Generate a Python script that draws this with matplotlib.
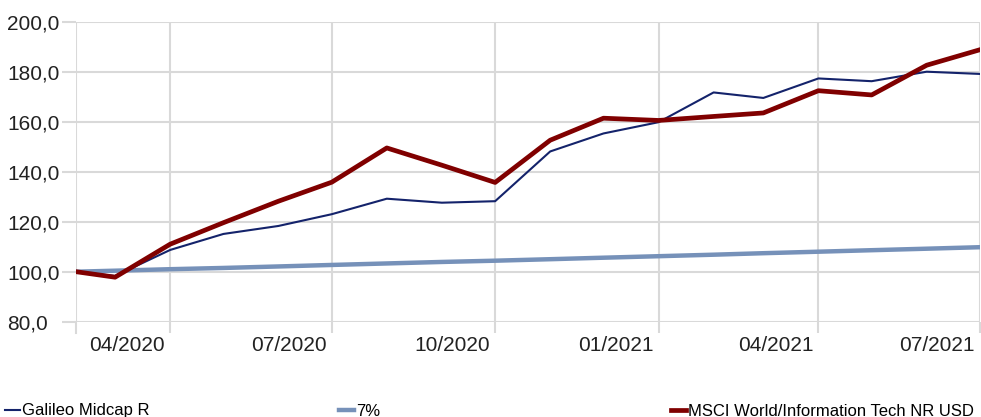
import pandas as pd
import matplotlib.pyplot as plt
import matplotlib.transforms as mtransforms
from matplotlib.ticker import FuncFormatter

# --- DATA ---
dates = pd.to_datetime([
    '2020-02-08', '2020-03-01', '2020-04-01', '2020-05-01', '2020-06-01',
    '2020-07-01', '2020-08-01', '2020-09-01', '2020-10-01', '2020-11-01',
    '2020-12-01', '2021-01-01', '2021-02-01', '2021-03-01', '2021-04-01',
    '2021-05-01', '2021-06-01', '2021-07-01',
])
galileo = [100.0, 98.3, 108.7, 115.1, 118.3, 123.0, 129.2, 127.6, 128.2, 148.1,
           155.3, 159.8, 171.7, 169.5, 177.3, 176.2, 180.0, 179.1]
msci = [100.0, 97.8, 111.0, 119.6, 128.2, 135.8, 149.5, 142.6, 135.7, 152.6,
        161.4, 160.5, 162.1, 163.5, 172.4, 170.7, 182.6, 188.8]
seven_pct = [100.0, 100.4, 101.0, 101.5, 102.1, 102.7, 103.3, 103.9, 104.4, 105.0,
             105.6, 106.2, 106.8, 107.4, 108.0, 108.6, 109.2, 109.8]

tick_dates = pd.to_datetime(['2020-04-01', '2020-07-01', '2020-10-01',
                             '2021-01-01', '2021-04-01', '2021-07-01'])
tick_labels = ['04/2020', '07/2020', '10/2020', '01/2021', '04/2021', '07/2021']
y_ticks = [80, 100, 120, 140, 160, 180, 200]

plt.rcParams['font.family'] = ['Liberation Sans', 'DejaVu Sans']

W, H = 981, 417
fig = plt.figure(figsize=(W / 100, H / 100), dpi=100)
ax = fig.add_axes([76 / W, 1 - 321.7 / H, (980 - 76) / W, 300 / H])

grid_c = '#d9d9d9'
l1, = ax.plot(dates, galileo, color='#14236b', lw=1.5, label='Galileo Midcap R', zorder=4)
l2, = ax.plot(dates, seven_pct, color='#7691b9', lw=3.2, label='7%', zorder=3)
l3, = ax.plot(dates, msci, color='#800000', lw=3.4, label='MSCI World/Information Tech NR USD', zorder=5)

ax.set_ylim(80, 200)
ax.set_xlim(dates[0], tick_dates[-1])
ax.set_yticks(y_ticks)
ax.yaxis.set_major_formatter(FuncFormatter(lambda v, p: f"{v:.1f}".replace('.', ',')))
ax.set_xticks(tick_dates)
ax.set_xticklabels(tick_labels, ha='right')

for s in ax.spines.values():
    s.set_visible(False)
ax.grid(True, color=grid_c, lw=1.5, zorder=0)
ax.set_axisbelow(True)
# y labels are left aligned at the figure edge
ax.tick_params(axis='y', length=10, width=1.5, color=grid_c, pad=39.6, labelsize=15, labelcolor='#222222')
for lab in ax.get_yticklabels():
    lab.set_horizontalalignment('left')
ax.tick_params(axis='x', length=8, width=1.5, color=grid_c, pad=2, labelsize=15, labelcolor='#222222')

# x labels sit just left of their gridline
offset = mtransforms.ScaledTranslation(-5 / 100, 0, fig.dpi_scale_trans)
for lab in ax.get_xticklabels():
    lab.set_transform(lab.get_transform() + offset)

# first vertical gridline at the left edge, with its tick
ax.axvline(dates[0], color=grid_c, lw=1.5, zorder=0)
ax.axvline(dates[0], ymin=-11 / 300, ymax=0, color=grid_c, lw=1.5, clip_on=False)

# legend: three entries spread across the bottom
for h, x in [(l1, 0.0), (l2, 334 / W), (l3, 666 / W)]:
    fig.legend(handles=[h], loc='center left', bbox_to_anchor=(x, 6 / H), frameon=False,
               handlelength=0.9, handletextpad=0.15, borderaxespad=0, borderpad=0.3,
               fontsize=12)

fig.savefig('out.png', dpi=100)
